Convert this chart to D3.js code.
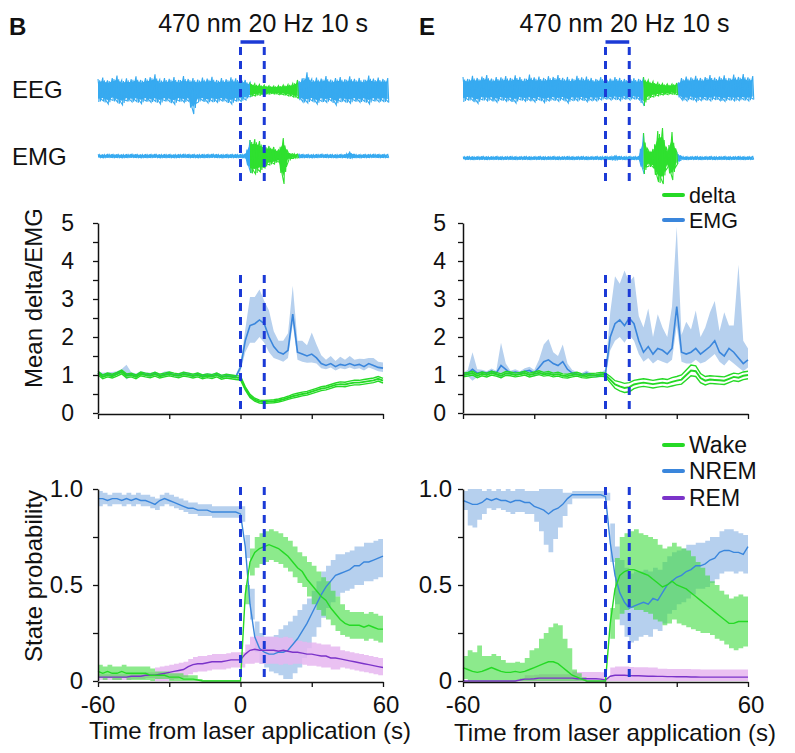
<!DOCTYPE html>
<html><head><meta charset="utf-8">
<script src="https://cdn.jsdelivr.net/npm/d3@7"></script>
<style>
body{margin:0;background:#fff}
svg{display:block}
text{font-family:"Liberation Sans",Arial,Helvetica,sans-serif;fill:#111}
</style>
</head><body>
<svg id="c" width="795" height="753"></svg>
<script>
// ---------------- DATA ----------------
const panelLetters = ["B", "E"];
const stimLabel = "470 nm 20 Hz 10 s";
const laserTimes = [0, 10];
const xTickValues = [-60, -30, 0, 30, 60];
const xTickLabels = ["-60", "", "0", "", "60"];
const midTickValues = [0, 0.5, 1, 1.5, 2, 2.5, 3, 3.5, 4, 4.5, 5];
const midTickLabels = ["0", "", "1", "", "2", "", "3", "", "4", "", "5"];
const probTickValues = [0, 0.25, 0.5, 0.75, 1];
const probTickLabels = ["0", "", "0.5", "", "1.0"];
const midLegend = ["delta", "EMG"];
const stateLegend = ["Wake", "NREM", "REM"];
const xLabel = "Time from laser application (s)";

// time grid (s) for averaged curves and for example traces
const T = d3.range(-60, 61, 2);
const TT = d3.range(-60, 63, 2);

// example traces (amplitude, arbitrary units), green = wake window
const eegWinL = [4, 24], eegWinR = [16, 30];
const eegHiL = [0.55,0.62,0.48,0.6,0.72,0.5,0.58,0.54,0.68,0.5, 0.6,0.64,0.78,0.52,0.6,0.56,0.65,0.5,0.7,0.55, 0.6,0.52,0.62,0.57,0.66,0.5,0.6,0.54,0.63,0.58, 0.6,0.5, 0.38,0.32,0.28,0.25,0.22,0.2,0.22,0.25,0.28,0.33,0.5, 0.58,0.88,0.55,0.62,0.57,0.7,0.52,0.6,0.65,0.54,0.68,0.56,0.6,0.52,0.72,0.57,0.62,0.55,0.6];
const eegLoL = [-0.6,-0.55,-0.7,-0.52,-0.62,-0.75,-0.55,-0.6,-0.58,-0.68, -0.55,-0.62,-0.58,-0.7,-0.55,-0.6,-0.72,-0.56,-0.62,-0.58, -1.2,-0.6,-0.55,-0.65,-0.58,-0.62,-0.55,-0.6,-0.7,-0.56, -0.58,-0.5, -0.35,-0.3,-0.26,-0.24,-0.2,-0.2,-0.23,-0.25,-0.3,-0.35,-0.42, -0.6,-0.65,-0.55,-0.7,-0.58,-0.62,-0.55,-0.75,-0.58,-0.6,-0.66,-0.55,-0.62,-0.58,-0.7,-0.55,-0.6,-0.58,-0.62];
const emgHiL = [0.08,0.07,0.09,0.08,0.08,0.07,0.08,0.09,0.08,0.07, 0.08,0.08,0.09,0.07,0.08,0.08,0.07,0.08,0.09,0.08, 0.08,0.07,0.08,0.08,0.09,0.08,0.07,0.08,0.08,0.08, 0.08,0.1, 0.8,0.85,0.75,0.55,0.5,0.45,0.3,0.9,0.2,0.12,0.1, 0.08,0.08,0.07,0.08,0.09,0.08,0.08,0.07,0.08,0.08,0.2,0.08,0.07,0.08,0.08,0.09,0.08,0.08,0.08];
const emgLoL = [-0.08,-0.09,-0.07,-0.08,-0.08,-0.09,-0.08,-0.07,-0.08,-0.09, -0.08,-0.08,-0.07,-0.09,-0.08,-0.08,-0.09,-0.08,-0.07,-0.08, -0.08,-0.09,-0.08,-0.08,-0.07,-0.08,-0.09,-0.08,-0.08,-0.08, -0.08,-0.1, -0.85,-0.9,-0.8,-0.6,-0.45,-0.4,-0.3,-1.4,-0.2,-0.12,-0.1, -0.08,-0.08,-0.09,-0.08,-0.07,-0.08,-0.08,-0.09,-0.08,-0.08,-0.12,-0.08,-0.09,-0.08,-0.08,-0.07,-0.08,-0.08,-0.08];
const eegHiR = [0.6,0.5,0.66,0.55,0.62,0.7,0.52,0.6,0.58,0.65, 0.55,0.68,0.6,0.52,0.72,0.58,0.62,0.55,0.64,0.6, 0.7,0.56,0.6,0.52,0.66,0.58,0.62,0.55,0.5,0.6, 0.56,0.52,0.6,0.55,0.5,0.58,0.54,0.5, 0.6,0.45,0.38,0.32,0.28,0.25,0.25,0.3, 0.55,0.62,0.58,0.66,0.55,0.6,0.7,0.57,0.62,0.68,0.55,0.72,0.6,0.75,0.58,0.65];
const eegLoR = [-0.65,-0.55,-0.6,-0.72,-0.55,-0.6,-0.58,-0.66,-0.55,-0.62, -0.6,-0.7,-0.55,-0.62,-0.58,-0.65,-0.55,-0.68,-0.6,-0.56, -0.62,-0.55,-0.7,-0.58,-0.6,-0.55,-0.64,-0.58,-0.6,-0.55, -0.5,-0.55,-0.52,-0.58,-0.5,-0.55,-0.5,-0.55, -0.85,-0.5,-0.4,-0.35,-0.3,-0.28,-0.26,-0.3, -0.55,-0.6,-0.52,-0.62,-0.58,-0.55,-0.6,-0.52,-0.58,-0.62,-0.55,-0.6,-0.58,-0.55,-0.6,-0.52];
const emgHiR = [0.07,0.08,0.07,0.07,0.08,0.07,0.07,0.08,0.07,0.07, 0.08,0.07,0.07,0.08,0.07,0.07,0.08,0.07,0.07,0.08, 0.07,0.07,0.08,0.07,0.07,0.08,0.07,0.07,0.08,0.07, 0.08,0.07,0.12,0.08,0.07,0.08,0.07,0.08, 1.25,0.4,0.45,1.35,1.5,0.4,1.3,0.3, 0.08,0.07,0.07,0.08,0.07,0.07,0.08,0.07,0.07,0.08,0.07,0.07,0.08,0.07,0.07,0.08];
const emgLoR = [-0.07,-0.07,-0.08,-0.07,-0.07,-0.08,-0.07,-0.07,-0.08,-0.07, -0.07,-0.08,-0.07,-0.07,-0.08,-0.07,-0.07,-0.08,-0.07,-0.07, -0.08,-0.07,-0.07,-0.08,-0.07,-0.07,-0.08,-0.07,-0.07,-0.08, -0.07,-0.08,-0.1,-0.07,-0.08,-0.07,-0.08,-0.07, -0.8,-0.4,-0.5,-1.2,-1.3,-0.45,-1.1,-0.3, -0.07,-0.08,-0.07,-0.07,-0.08,-0.07,-0.07,-0.08,-0.07,-0.07,-0.08,-0.07,-0.07,-0.08,-0.07,-0.07];

// mean delta / EMG (normalised), panel B
const deltaMeanL = [1.05,0.95,1.0,0.97,1.02,1.08,0.98,1.0,0.95,1.03, 1.0,0.98,1.02,0.97,1.0,1.03,1.0,0.98,1.02,1.0, 0.97,1.0,0.95,0.98,0.96,1.0,0.94,0.97,0.95,0.93, 0.92, 0.65,0.45,0.35,0.3,0.29,0.3,0.31,0.33,0.36,0.4, 0.44,0.47,0.5,0.52,0.56,0.6,0.64,0.66,0.7,0.74, 0.76,0.75,0.78,0.8,0.8,0.82,0.84,0.86,0.9,0.85];
const deltaSemL = [0.05,0.05,0.05,0.05,0.05,0.05,0.05,0.05,0.05,0.05, 0.05,0.05,0.05,0.05,0.05,0.05,0.05,0.05,0.05,0.05, 0.05,0.05,0.05,0.05,0.05,0.05,0.05,0.05,0.05,0.05, 0.05, 0.04,0.04,0.04,0.04,0.04,0.04,0.04,0.04,0.04,0.04, 0.05,0.05,0.05,0.05,0.05,0.05,0.05,0.05,0.05,0.05, 0.06,0.06,0.06,0.06,0.06,0.06,0.06,0.06,0.06,0.06];
const emgMeanL = [1.05,1.0,1.02,1.0,1.05,1.1,1.0,1.02,0.98,1.05, 1.02,1.0,1.04,0.98,1.02,1.05,1.0,1.0,1.03,1.02, 0.98,1.02,0.97,1.0,0.98,1.02,0.96,0.98,0.97,0.95, 1.2, 1.9,2.3,2.35,2.45,2.35,2.0,1.75,1.6,1.55,1.65, 2.6,1.6,1.55,1.5,1.55,1.45,1.3,1.25,1.3,1.22, 1.28,1.25,1.3,1.25,1.28,1.22,1.3,1.25,1.2,1.18];
const emgSemL = [0.05,0.06,0.05,0.08,0.05,0.06,0.12,0.05,0.06,0.05, 0.05,0.06,0.05,0.05,0.07,0.05,0.05,0.05,0.06,0.05, 0.05,0.05,0.05,0.05,0.05,0.05,0.05,0.05,0.05,0.05, 0.1, 0.3,0.45,0.5,0.45,0.5,0.4,0.3,0.2,0.2,0.2, 0.25,0.2,0.2,0.18,0.22,0.15,0.12,0.1,0.1,0.1, 0.1,0.1,0.1,0.1,0.1,0.1,0.1,0.1,0.1,0.1];
const emgPeakL = [0,0,0,0,0,0,0.15,0,0,0, 0,0,0,0,0,0,0,0,0,0, 0,0,0,0,0,0,0,0,0,0, 0, 0,0.3,0.2,0.35,0.1,0.3,0.1,0.1,0.15,0.25, 0.5,0.1,0.15,0.1,0.35,0.2,0.1,0.05,0.1,0.05, 0.1,0.05,0.1,0.05,0.05,0.1,0.05,0.1,0.05,0.05];

// mean delta / EMG, panel E
const deltaMeanR = [1.0,1.02,1.05,0.98,1.03,1.0,1.05,1.02,0.98,1.04, 1.03,1.0,1.02,1.05,1.0,1.03,1.06,1.02,1.04,1.0, 1.02,0.98,0.97,1.0,1.02,0.98,0.97,0.99,1.0,1.02, 1.0, 0.88,0.75,0.7,0.66,0.68,0.75,0.78,0.8,0.78,0.76, 0.78,0.8,0.78,0.82,0.85,0.88,1.0,1.12,1.1,0.92, 0.85,0.88,0.87,0.86,0.85,0.9,0.95,0.93,0.98,1.0];
const deltaSemR = [0.05,0.05,0.05,0.05,0.05,0.05,0.05,0.05,0.05,0.05, 0.05,0.05,0.05,0.05,0.05,0.05,0.05,0.05,0.05,0.05, 0.05,0.05,0.05,0.05,0.05,0.05,0.05,0.05,0.05,0.05, 0.05, 0.08,0.1,0.12,0.12,0.12,0.11,0.1,0.1,0.1,0.1, 0.1,0.1,0.1,0.11,0.11,0.12,0.13,0.14,0.14,0.12, 0.11,0.1,0.1,0.1,0.1,0.1,0.1,0.1,0.1,0.1];
const emgMeanR = [1.0,1.05,1.15,1.05,1.08,1.05,1.1,1.05,1.25,1.15, 1.05,1.08,1.05,1.1,1.12,1.05,1.2,1.35,1.4,1.3, 1.25,1.35,1.15,1.05,1.02,1.0,1.05,1.0,0.98,1.0, 1.05, 2.0,2.35,2.45,2.3,2.5,2.35,1.9,1.6,1.75,1.55, 1.7,1.65,1.55,1.7,2.8,1.6,1.55,1.6,1.7,1.55, 1.65,1.75,1.9,1.6,1.5,1.7,1.6,1.45,1.3,1.4];
const emgSemR = [0.06,0.08,0.3,0.1,0.06,0.05,0.07,0.06,0.35,0.15, 0.06,0.07,0.05,0.08,0.1,0.08,0.2,0.35,0.4,0.3, 0.25,0.3,0.15,0.08,0.06,0.05,0.07,0.05,0.05,0.06, 0.1, 0.35,0.45,0.45,0.45,0.45,0.45,0.35,0.25,0.3,0.25, 0.3,0.3,0.25,0.3,0.5,0.25,0.25,0.3,0.3,0.25, 0.3,0.3,0.35,0.25,0.25,0.3,0.3,0.25,0.2,0.2];
const emgPeakR = [0,0,0.15,0,0,0,0,0,0.25,0, 0,0,0,0,0,0,0,0.1,0.15,0, 0,0.15,0,0,0,0,0,0,0,0, 0, 0.3,0.8,0.5,1.0,0.5,0.8,0.3,0.4,0.7,0.2, 0.6,0.3,0.2,0.8,1.6,0.2,0.6,0.3,0.7,0.2, 0.3,0.6,0.7,0.3,0.9,0.3,0.4,2.2,0.4,0.1];

// state probabilities, panel B
const wakeMeanL = [0.05,0.04,0.05,0.04,0.04,0.05,0.04,0.04,0.04,0.04, 0.04,0.03,0.03,0.03,0.03,0.02,0.02,0.02,0.01,0.01, 0.01,0.005,0,0,0,0,0,0,0,0, 0, 0.45,0.62,0.67,0.69,0.7,0.71,0.7,0.69,0.67,0.65, 0.62,0.59,0.57,0.53,0.5,0.47,0.44,0.42,0.38,0.35, 0.32,0.3,0.29,0.29,0.29,0.28,0.29,0.28,0.27,0.27];
const wakeSemL = [0.035,0.035,0.035,0.035,0.035,0.035,0.035,0.035,0.035,0.035, 0.035,0.035,0.02,0.02,0.02,0.02,0.02,0.02,0.02,0.02, 0.02,0.005,0.005,0.005,0.005,0.005,0.005,0.005,0.005,0.005, 0, 0.05,0.07,0.08,0.08,0.08,0.08,0.08,0.08,0.08,0.08, 0.08,0.08,0.08,0.09,0.1,0.1,0.1,0.1,0.09,0.09, 0.08,0.07,0.07,0.07,0.07,0.07,0.07,0.07,0.07,0.07];
const nremMeanL = [0.95,0.95,0.94,0.95,0.95,0.94,0.95,0.94,0.95,0.94, 0.94,0.93,0.92,0.94,0.95,0.94,0.93,0.92,0.91,0.9, 0.9,0.89,0.89,0.89,0.88,0.88,0.88,0.88,0.88,0.88, 0.87, 0.7,0.4,0.23,0.17,0.15,0.14,0.14,0.15,0.15,0.16, 0.19,0.22,0.26,0.3,0.35,0.4,0.45,0.49,0.52,0.55, 0.56,0.57,0.58,0.6,0.6,0.62,0.62,0.63,0.64,0.65];
const nremSemL = [0.04,0.03,0.03,0.03,0.03,0.03,0.03,0.03,0.03,0.03, 0.03,0.03,0.03,0.03,0.03,0.03,0.03,0.03,0.03,0.03, 0.03,0.03,0.03,0.03,0.03,0.03,0.03,0.03,0.03,0.03, 0.04, 0.06,0.08,0.08,0.08,0.08,0.09,0.1,0.12,0.14,0.15, 0.15,0.15,0.14,0.13,0.12,0.12,0.12,0.11,0.11,0.11, 0.1,0.1,0.1,0.1,0.1,0.1,0.1,0.1,0.1,0.1];
const remMeanL = [0.02,0.02,0.02,0.02,0.02,0.02,0.02,0.025,0.025,0.025, 0.03,0.03,0.03,0.035,0.04,0.045,0.05,0.055,0.06,0.075, 0.085,0.09,0.09,0.095,0.1,0.1,0.1,0.105,0.11,0.11, 0.11, 0.14,0.16,0.165,0.16,0.16,0.16,0.16,0.155,0.16,0.155, 0.15,0.15,0.145,0.14,0.14,0.135,0.13,0.13,0.12,0.12, 0.115,0.11,0.105,0.1,0.095,0.09,0.085,0.08,0.075,0.07];
const remSemL = [0.015,0.015,0.015,0.015,0.015,0.015,0.015,0.015,0.015,0.015, 0.015,0.015,0.04,0.04,0.04,0.04,0.04,0.04,0.04,0.04, 0.04,0.04,0.04,0.04,0.04,0.04,0.04,0.04,0.04,0.04, 0.04, 0.05,0.07,0.07,0.07,0.07,0.07,0.07,0.07,0.07,0.07, 0.06,0.06,0.06,0.06,0.06,0.06,0.06,0.06,0.06,0.06, 0.045,0.045,0.045,0.045,0.045,0.045,0.045,0.045,0.045,0.045];

// state probabilities, panel E
const wakeMeanR = [0.07,0.06,0.05,0.045,0.05,0.06,0.07,0.06,0.05,0.045, 0.045,0.05,0.045,0.05,0.06,0.07,0.08,0.09,0.1,0.1, 0.09,0.07,0.05,0.03,0.02,0.01,0,0,0,0, 0, 0.3,0.48,0.55,0.57,0.58,0.58,0.57,0.56,0.55,0.53, 0.51,0.49,0.5,0.52,0.5,0.49,0.48,0.46,0.44,0.42, 0.4,0.38,0.36,0.34,0.32,0.3,0.3,0.31,0.31,0.31];
const wakeSemR = [0.06,0.1,0.1,0.14,0.08,0.07,0.07,0.07,0.06,0.05, 0.05,0.05,0.05,0.07,0.1,0.1,0.14,0.16,0.18,0.2, 0.2,0.15,0.12,0.03,0.02,0.01,0,0,0,0, 0, 0.08,0.16,0.2,0.2,0.2,0.21,0.2,0.2,0.2,0.21, 0.2,0.2,0.2,0.2,0.2,0.2,0.2,0.19,0.18,0.17, 0.15,0.14,0.14,0.13,0.13,0.13,0.14,0.14,0.13,0.13];
const nremMeanR = [0.94,0.93,0.92,0.92,0.93,0.95,0.94,0.95,0.94,0.94, 0.93,0.94,0.94,0.93,0.93,0.91,0.9,0.89,0.87,0.89, 0.9,0.92,0.95,0.97,0.97,0.97,0.97,0.97,0.97,0.97, 0.96, 0.72,0.55,0.46,0.41,0.38,0.39,0.4,0.41,0.4,0.43, 0.42,0.46,0.5,0.52,0.54,0.55,0.57,0.58,0.6,0.6, 0.61,0.63,0.64,0.67,0.68,0.68,0.67,0.67,0.66,0.7];
const nremSemR = [0.05,0.12,0.12,0.08,0.06,0.05,0.05,0.05,0.05,0.06, 0.06,0.06,0.06,0.06,0.06,0.08,0.12,0.18,0.2,0.15, 0.1,0.06,0.03,0.02,0.02,0.02,0.02,0.02,0.02,0.02, 0.02, 0.1,0.15,0.17,0.18,0.18,0.18,0.17,0.17,0.17,0.16, 0.16,0.16,0.15,0.15,0.14,0.14,0.14,0.13,0.12,0.12, 0.12,0.12,0.11,0.11,0.11,0.11,0.11,0.1,0.1,0.1];
const remMeanR = [0,0,0,0,0,0,0,0,0,0, 0,0,0.005,0.01,0.01,0.012,0.015,0.015,0.015,0.015, 0.015,0.015,0.015,0.015,0.012,0.012,0.012,0.012,0.012,0.01, 0.005, 0.025,0.03,0.03,0.03,0.028,0.027,0.027,0.026,0.025,0.025, 0.024,0.024,0.023,0.023,0.022,0.022,0.022,0.021,0.021,0.02, 0.02,0.02,0.02,0.02,0.02,0.02,0.02,0.02,0.02,0.02];
const remSemR = [0,0,0,0,0,0,0,0,0,0, 0,0,0.01,0.02,0.02,0.02,0.02,0.02,0.02,0.02, 0.02,0.02,0.02,0.035,0.035,0.035,0.035,0.035,0.035,0.035, 0.01, 0.045,0.045,0.045,0.045,0.045,0.045,0.045,0.045,0.045,0.045, 0.04,0.04,0.04,0.04,0.04,0.04,0.04,0.04,0.04,0.04, 0.04,0.04,0.04,0.04,0.04,0.04,0.04,0.04,0.04,0.04];

// sanity check of lengths
const chk61 = {deltaMeanL,deltaSemL,emgMeanL,emgSemL,emgPeakL,deltaMeanR,deltaSemR,emgMeanR,emgSemR,emgPeakR,
  wakeMeanL,wakeSemL,nremMeanL,nremSemL,remMeanL,remSemL,wakeMeanR,wakeSemR,nremMeanR,nremSemR,remMeanR,remSemR};
const chk62 = {eegHiL,eegLoL,emgHiL,emgLoL,eegHiR,eegLoR,emgHiR,emgLoR};
const bad = [];
for (const k in chk61) if (chk61[k].length !== T.length) bad.push(k + ":" + chk61[k].length);
for (const k in chk62) if (chk62[k].length !== TT.length) bad.push(k + ":" + chk62[k].length);
if (bad.length) throw new Error("length mismatch " + bad.join(", "));

// ---------------- STYLE ----------------
const C = {
  traceBlue: "#37aaf0", traceGreen: "#2fe02f",
  green: "#25d925", greenBand: "#3fdc3f",
  blue: "#3a86dc", blueBand: "#b6d0ee",
  rem: "#7b33c9", remBand: "#e6b6f0",
  dash: "#1b3ad6", axis: "#111"
};
const FONT = '"Liberation Sans",Arial,Helvetica,sans-serif';

const svg = d3.select("#c");
const xL = d3.scaleLinear().domain([-60, 60]).range([98, 383]);
const xR = d3.scaleLinear().domain([-60, 60]).range([463, 748]);
const yMid = d3.scaleLinear().domain([0, 5]).range([413, 223]);
const yProb = d3.scaleLinear().domain([0, 1]).range([681, 489]);
const ampScale = d3.scaleLinear().domain([-1, 1]).range([20, -20]);
const clamp01 = v => Math.max(0, Math.min(1, v));

// ---------------- TRACES ----------------
function drawTrace(x, cy, hi, lo, win) {
  const g = svg.append("g").attr("transform", `translate(0,${cy})`);
  const idx = d3.range(TT.length);
  const area = d3.area().x(i => x(TT[i])).y0(i => ampScale(lo[i] * 0.72)).y1(i => ampScale(hi[i] * 0.72));
  const zig = ids => {
    const pts = [];
    ids.forEach((i, k) => {
      pts.push([x(TT[i]), ampScale(hi[i])]);
      if (k < ids.length - 1) {
        const j = ids[k + 1];
        pts.push([x((TT[i] + TT[j]) / 2), ampScale(lo[i] * 0.5 + lo[j] * 0.5)]);
        pts.push([x(TT[i] + (TT[j] - TT[i]) * 0.75), ampScale((hi[i] + hi[j]) * 0.3)]);
      } else {
        pts.push([x(TT[i]) + 1, ampScale(lo[i])]);
      }
    });
    return d3.line()(pts);
  };
  const zig2 = ids => {
    const pts = [];
    ids.forEach((i, k) => {
      pts.push([x(TT[i]) + 0.8, ampScale(lo[i])]);
      if (k < ids.length - 1) {
        const j = ids[k + 1];
        pts.push([x(TT[i] + (TT[j] - TT[i]) * 0.35), ampScale((hi[i] * 0.6 + hi[j] * 0.4) * 0.85)]);
        pts.push([x(TT[i] + (TT[j] - TT[i]) * 0.65), ampScale((lo[i] * 0.4 + lo[j] * 0.6) * 0.8)]);
      }
    });
    return d3.line()(pts);
  };
  const segs = [
    [idx.filter(i => TT[i] <= win[0]), C.traceBlue],
    [idx.filter(i => TT[i] >= win[1]), C.traceBlue],
    [idx.filter(i => TT[i] >= win[0] && TT[i] <= win[1]), C.traceGreen]
  ];
  segs.forEach(([ids, col]) => {
    g.append("path").datum(ids).attr("d", area).attr("fill", col);
    g.append("path").attr("d", zig(ids)).attr("fill", "none").attr("stroke", col).attr("stroke-width", 1.1);
    g.append("path").attr("d", zig2(ids)).attr("fill", "none").attr("stroke", col).attr("stroke-width", 1.1);
  });
}

// ---------------- PANELS ----------------
function axes(g, x, y, yVals, yLabs, pad, fs) {
  const ya = d3.axisLeft(y).tickValues(yVals).tickSize(5).tickSizeOuter(0).tickPadding(pad)
    .tickFormat((d, i) => yLabs[i]);
  const gy = g.append("g").attr("transform", `translate(${x.range()[0]},0)`).call(ya);
  const xa = d3.axisBottom(x).tickValues(xTickValues).tickSize(5).tickSizeOuter(0).tickFormat("");
  const gx = g.append("g").attr("transform", `translate(0,${y.range()[0] + 1})`).call(xa);
  [gy, gx].forEach(a => {
    a.select(".domain").attr("stroke", C.axis).attr("stroke-width", 1.5);
    a.selectAll(".tick line").attr("stroke", C.axis).attr("stroke-width", 1.3);
    a.selectAll("text").attr("font-size", fs).attr("font-family", FONT).attr("fill", "#111");
  });
  return gx;
}

function dashed(g, x, y0, y1) {
  laserTimes.forEach(t => {
    g.append("line").attr("x1", x(t)).attr("x2", x(t)).attr("y1", y0).attr("y2", y1)
      .attr("stroke", C.dash).attr("stroke-width", 3).attr("stroke-dasharray", "8,6");
  });
}

function midPanel(x, dm, ds, em, es, ep, pad) {
  const g = svg.append("g");
  const idx = d3.range(T.length);
  g.append("path").datum(idx)
    .attr("d", d3.area().x(i => x(T[i])).y0(i => yMid(Math.max(0, em[i] - es[i]))).y1(i => yMid(em[i] + es[i] + ep[i])))
    .attr("fill", C.blueBand);
  g.append("path").datum(idx).attr("d", d3.line().x(i => x(T[i])).y(i => yMid(em[i])))
    .attr("fill", "none").attr("stroke", C.blue).attr("stroke-width", 1.6);
  [[-1, 1.4], [1, 1.4], [0, 1.9]].forEach(([s, w]) => {
    g.append("path").datum(idx).attr("d", d3.line().x(i => x(T[i])).y(i => yMid(dm[i] + s * ds[i])))
      .attr("fill", "none").attr("stroke", C.green).attr("stroke-width", w);
  });
  axes(g, x, yMid, midTickValues, midTickLabels, pad, 23);
  dashed(g, x, 275, 413);
}

function probPanel(x, wm, ws, nm, ns, rm, rs, pad) {
  const g = svg.append("g");
  const idx = d3.range(T.length);
  const band = (m, s) => d3.area().curve(d3.curveStepAfter).x(i => x(T[i]))
    .y0(i => yProb(clamp01(m[i] - s[i]))).y1(i => yProb(clamp01(m[i] + s[i])));
  const line = m => d3.line().x(i => x(T[i])).y(i => yProb(m[i]));
  g.append("path").datum(idx).attr("d", band(nm, ns)).attr("fill", C.blueBand);
  g.append("path").datum(idx).attr("d", band(rm, rs)).attr("fill", C.remBand).attr("opacity", 0.85);
  g.append("path").datum(idx).attr("d", band(wm, ws)).attr("fill", C.greenBand).attr("opacity", 0.6);
  g.append("path").datum(idx).attr("d", line(nm)).attr("fill", "none").attr("stroke", C.blue).attr("stroke-width", 1.4);
  g.append("path").datum(idx).attr("d", line(rm)).attr("fill", "none").attr("stroke", C.rem).attr("stroke-width", 1.4);
  g.append("path").datum(idx).attr("d", line(wm)).attr("fill", "none").attr("stroke", C.green).attr("stroke-width", 1.4);
  axes(g, x, yProb, probTickValues, probTickLabels, pad, 24);
  dashed(g, x, 487, 682);
  xTickValues.forEach((t, i) => {
    if (!xTickLabels[i]) return;
    g.append("text").attr("x", x(t) + (t === 60 ? 3 : 0)).attr("y", 713).attr("text-anchor", "middle")
      .attr("font-size", 24).text(xTickLabels[i]);
  });
}

function topPanel(x, letterX, letter, titleT, eHi, eLo, mHi, mLo, win, eegY, emgY) {
  svg.append("text").attr("x", letterX).attr("y", 35).attr("font-size", 24).attr("font-weight", "bold").text(letter);
  svg.append("text").attr("x", x(titleT)).attr("y", 32).attr("text-anchor", "middle")
    .attr("font-size", 25).text(stimLabel);
  svg.append("line").attr("x1", x(0)).attr("x2", x(10)).attr("y1", 42).attr("y2", 42)
    .attr("stroke", C.dash).attr("stroke-width", 3.5);
  drawTrace(x, eegY, eHi, eLo, win);
  drawTrace(x, emgY, mHi, mLo, win);
  dashed(svg, x, 47, 184);
}

topPanel(xL, 9, panelLetters[0], 9.5, eegHiL, eegLoL, emgHiL, emgLoL, eegWinL, 90, 156);
topPanel(xR, 419, panelLetters[1], 8, eegHiR, eegLoR, emgHiR, emgLoR, eegWinR, 89, 158);
svg.append("text").attr("x", 12).attr("y", 90).attr("dy", "0.35em").attr("font-size", 24).text("EEG");
svg.append("text").attr("x", 12).attr("y", 157).attr("dy", "0.35em").attr("font-size", 24).text("EMG");

midPanel(xL, deltaMeanL, deltaSemL, emgMeanL, emgSemL, emgPeakL, 19);
midPanel(xR, deltaMeanR, deltaSemR, emgMeanR, emgSemR, emgPeakR, 12);
probPanel(xL, wakeMeanL, wakeSemL, nremMeanL, nremSemL, remMeanL, remSemL, 10);
probPanel(xR, wakeMeanR, wakeSemR, nremMeanR, nremSemR, remMeanR, remSemR, 6);

// axis titles
svg.append("text").attr("transform", "translate(42,298) rotate(-90)").attr("text-anchor", "middle")
  .attr("font-size", 24).text("Mean delta/EMG");
svg.append("text").attr("transform", "translate(42,576) rotate(-90)").attr("text-anchor", "middle")
  .attr("font-size", 24).text("State probability");
svg.append("text").attr("x", 250).attr("y", 739).attr("text-anchor", "middle").attr("font-size", 24).text(xLabel);
svg.append("text").attr("x", 615).attr("y", 741).attr("text-anchor", "middle").attr("font-size", 24).text(xLabel);

// legends
function legend(items, cols, ys, fs) {
  items.forEach((name, i) => {
    svg.append("line").attr("x1", 664).attr("x2", 683).attr("y1", ys[i]).attr("y2", ys[i])
      .attr("stroke", cols[i]).attr("stroke-width", 4).attr("stroke-linecap", "round");
    svg.append("text").attr("x", 689).attr("y", ys[i]).attr("dy", "0.35em").attr("font-size", fs).text(name);
  });
}
legend(midLegend, [C.green, C.blue], [195, 220], 21.5);
legend(stateLegend, [C.green, C.blue, C.rem], [445, 471, 498], 23);
</script>
</body></html>
